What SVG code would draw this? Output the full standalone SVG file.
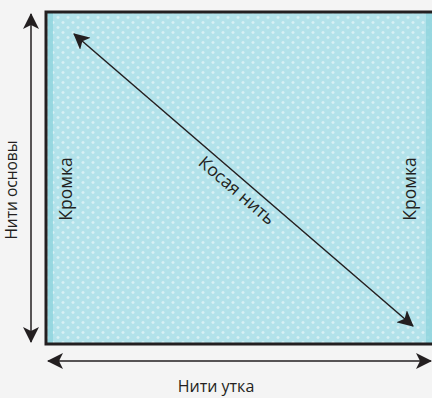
<svg xmlns="http://www.w3.org/2000/svg" width="432" height="398" viewBox="0 0 432 398">
<defs>
<pattern id="dots" x="0" y="0" width="10" height="10" patternUnits="userSpaceOnUse">
<rect width="10" height="10" fill="#b2e2ea"/>
<path d="M1.5 2.5h3M3 1v3" stroke="#d8f1f5" stroke-width="1.4"/>
<path d="M6.5 7.5h3M8 6v3" stroke="#d8f1f5" stroke-width="1.4"/>
</pattern>
<marker id="ah" viewBox="0 0 16 16" refX="15" refY="8" markerWidth="16" markerHeight="16" markerUnits="userSpaceOnUse" orient="auto-start-reverse">
<path d="M0 0L16 8L0 16L4 8Z" fill="#231f20"/>
</marker>
<style>
.t{font-family:"Open Sans","Liberation Sans",sans-serif;font-size:16px;fill:#231f20;text-anchor:middle}
.b{font-size:17.5px}
.ln{stroke:#231f20;stroke-width:1.5;fill:none}
</style>
</defs>
<rect width="432" height="398" fill="#f4f4f4"/>
<g id="fabric">
<rect x="46" y="12" width="386" height="332" fill="url(#dots)"/>
<rect x="48" y="13" width="5" height="330" fill="#8fd4dd" opacity="0.8"/>
<rect x="426" y="13" width="6" height="330" fill="#8fd4dd" opacity="0.8"/>
<path d="M432 12H46V344H432" fill="none" stroke="#231f20" stroke-width="3"/>
</g>
<g id="connectors">
<line class="ln" x1="31" y1="14" x2="31" y2="342" marker-start="url(#ah)" marker-end="url(#ah)"/>
<line class="ln" x1="48" y1="361" x2="431" y2="361" stroke="#555" marker-start="url(#ah)" marker-end="url(#ah)"/>
<line class="ln" x1="74" y1="34" x2="413" y2="326" stroke-width="1.3" marker-start="url(#ah)" marker-end="url(#ah)"/>
</g>
<g id="label-warp"><text class="t" style="font-size:15.5px" transform="translate(17 190) rotate(-90)">Нити основы</text></g>
<g id="label-weft"><text class="t" x="216" y="392">Нити утка</text></g>
<g id="label-bias"><text class="t b" transform="translate(233 195) rotate(40.8)">Косая нить</text></g>
<g id="label-selvage-left"><text class="t b" transform="translate(72 189) rotate(-90)">Кромка</text></g>
<g id="label-selvage-right"><text class="t b" transform="translate(416 189) rotate(-90)">Кромка</text></g>
</svg>
